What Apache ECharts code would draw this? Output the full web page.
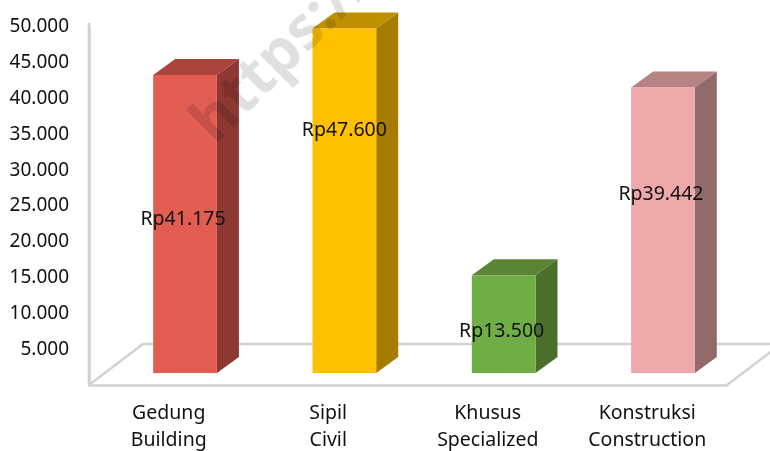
<!DOCTYPE html>
<html><head><meta charset="utf-8">
<style>html,body{margin:0;padding:0;background:#fff}#c{width:770px;height:451px}</style>
<script src="https://cdn.jsdelivr.net/npm/echarts@6/dist/echarts.min.js"></script>
</head><body><div id="c"></div>
<script>
const categories = ['Gedung\nBuilding','Sipil\nCivil','Khusus\nSpecialized','Konstruksi\nConstruction'];
const values = [41175,47600,13500,39442];
const valueLabels = ['Rp41.175','Rp47.600','Rp13.500','Rp39.442'];
const colorsFront = ['#E15D52','#FFC000','#70AD47','#EDA9AA'];
const colorsTop = ['#AA443C','#BF9000','#5A8537','#B78282'];
const colorsSide = ['#8D3832','#A67C00','#4A6F2B','#936A6A'];
const labelFractions = [0.52,0.708,0.44,0.63];
const labelShifts = [0,2,0,0];

const DX=22, DY=-16, FLOOR_DX=54, FLOOR_DY=-41;
const AXIS_COLOR='#D2D2D2';
const FONT='"Noto Sans"';
const chart=echarts.init(document.getElementById('c'),null,{renderer:'canvas'});

function renderBar(params,api){
  const i=api.value(0), v=api.value(1);
  const top=api.coord([i,v]), base=api.coord([i,0]);
  const w=api.size([1,0])[0]*0.4;
  const l=top[0]-w/2, r=top[0]+w/2, t=top[1], b=base[1];
  const poly=(pts,fill)=>({type:'polygon',shape:{points:pts},style:{fill}});
  return {type:'group',children:[
    poly([[l,t],[r,t],[r+DX,t+DY],[l+DX,t+DY]],colorsTop[i]),
    poly([[r,t],[r+DX,t+DY],[r+DX,b+DY],[r,b]],colorsSide[i]),
    poly([[l,t],[r,t],[r,b],[l,b]],colorsFront[i]),
    {type:'text',z2:10,style:{text:valueLabels[i],x:top[0]-2+labelShifts[i],y:b-(b-t)*labelFractions[i]+1,
      align:'center',verticalAlign:'middle',fill:'#111',font:'19.5px '+FONT}}
  ]};
}
function renderFloor(params,api){
  const half=api.size([1,0])[0]/2;
  const a=api.coord([0,0]), b=api.coord([categories.length-1,0]), wallTop=api.coord([0,50000]);
  const left=a[0]-half, right=b[0]+half, y=a[1];
  const s={stroke:AXIS_COLOR,lineWidth:2.5,fill:null};
  const line=(x1,y1,x2,y2)=>({type:'line',shape:{x1,y1,x2,y2},style:s});
  return {type:'group',silent:true,children:[
    line(left,wallTop[1]-4,left,y),
    line(left,y,left+FLOOR_DX,y+FLOOR_DY),
    line(left+FLOOR_DX,y+FLOOR_DY,right+FLOOR_DX,y+FLOOR_DY),
    line(right,y,right+FLOOR_DX,y+FLOOR_DY)
  ]};
}
chart.setOption({
  animation:false,
  backgroundColor:'#fff',
  grid:[
    {left:89,right:43,top:27,height:358,outerBoundsMode:'none'},
    {left:105.4,width:637.2,top:11,height:362,outerBoundsMode:'none'}
  ],
  xAxis:[
    {type:'category',gridIndex:0,data:categories,
     axisLine:{show:true,onZero:false,lineStyle:{color:AXIS_COLOR,width:2.5}},axisTick:{show:false},
     axisLabel:{color:'#111',fontFamily:FONT,fontSize:19.5,lineHeight:27,margin:15,interval:0}},
    {type:'category',gridIndex:1,data:categories,show:false}
  ],
  yAxis:[
    {type:'value',gridIndex:0,min:0,max:50000,interval:5000,
     axisLine:{show:true,lineStyle:{color:AXIS_COLOR,width:2.5}},axisTick:{show:false},splitLine:{show:false},
     axisLabel:{color:'#111',fontFamily:FONT,fontSize:19,margin:20,
       formatter:v=>v===0?'':(v/1000).toFixed(0)+'.000'}},
    {type:'value',gridIndex:1,min:0,max:50000,show:false,splitLine:{show:false}}
  ],
  graphic:[{type:'text',rotation:Math.PI/4,x:182,y:112,z:100,silent:true,
    style:{text:'https://',fill:'rgba(0,0,0,0.12)',font:'bold 60px "Noto Sans"'}}],
  series:[
    {type:'custom',xAxisIndex:0,yAxisIndex:0,coordinateSystem:'cartesian2d',clip:false,z:1,
     renderItem:renderFloor,data:[[0,0]],silent:true},
    {type:'custom',xAxisIndex:1,yAxisIndex:1,coordinateSystem:'cartesian2d',clip:false,z:2,
     renderItem:renderBar,encode:{x:0,y:1},data:values.map((v,i)=>[i,v])}
  ]
});
</script></body></html>
